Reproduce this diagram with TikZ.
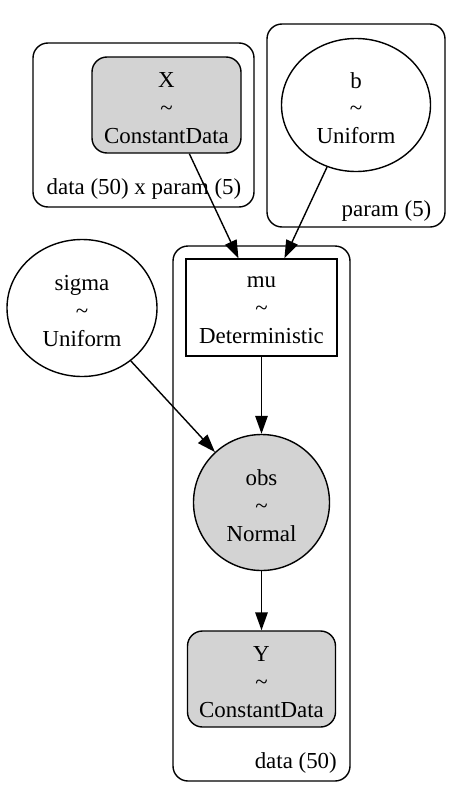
\documentclass[tikz,border=0pt]{standalone}
\usepackage{fontspec}
\setmainfont{Liberation Serif}
\usetikzlibrary{arrows.meta,shapes.geometric}
\definecolor{obsgray}{HTML}{D3D3D3}
\begin{document}
\begin{tikzpicture}[x=1pt,y=-1pt,
  every node/.style={font=\fontsize{22.9}{27.8}\selectfont, inner sep=0pt, align=center},
  plate/.style={draw, line width=1.4pt, rounded corners=15pt},
  platelabel/.style={font=\fontsize{22.9}{27.8}\selectfont},
  txt/.style={label={[align=center, yshift=-3pt]center:{#1}}},
  boxnode/.style={draw, line width=1.4pt, rectangle},
  datanode/.style={draw, line width=1.4pt, rectangle, rounded corners=15pt, fill=obsgray},
  rvnode/.style={draw, line width=1.4pt, ellipse},
  edge/.style={line width=1.4pt, -{Triangle[length=18pt,width=12.5pt]}}
]
\useasboundingbox (0,0) rectangle (454,790);

% plates
\draw[plate] (33,43) rectangle (254,207);
\draw[plate] (267,24) rectangle (445,227);
\draw[plate] (173,246) rectangle (350,781);
\node[platelabel] (lab1) at (144,189) {data (50) x param (5)};
\node[platelabel] (lab2) at (386.5,211) {param (5)};
\node[platelabel, anchor=east] (lab3) at (337,763) {data (50)};

% nodes
\node[datanode, minimum width=149pt, minimum height=96pt,
  txt={X\\\textasciitilde\\ConstantData}] (X) at (166.5,105) {};
\node[rvnode, minimum width=149pt, minimum height=133pt,
  txt={b\\\textasciitilde\\Uniform}] (b) at (356,105) {};
\node[rvnode, minimum width=150pt, minimum height=137pt,
  txt={sigma\\\textasciitilde\\Uniform}] (sigma) at (82,308) {};
\node[boxnode, minimum width=151pt, minimum height=97pt,
  txt={mu\\\textasciitilde\\Deterministic}] (mu) at (261.5,307.5) {};
\node[rvnode, circle, fill=obsgray, minimum size=136pt,
  txt={obs\\\textasciitilde\\Normal}] (obs) at (261.5,502.5) {};
\node[datanode, minimum width=148pt, minimum height=96pt,
  txt={Y\\\textasciitilde\\ConstantData}] (Y) at (261.5,679) {};

% edges
\draw[edge] (X) -- (mu);
\draw[edge] (b) -- (mu);
\draw[edge] (sigma) -- (obs);
\draw[edge] (mu) -- (obs);
\draw[edge] (obs) -- (Y);
\end{tikzpicture}
\end{document}
